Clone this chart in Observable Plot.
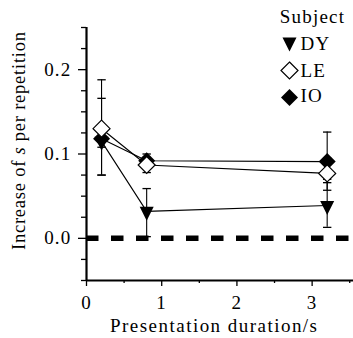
<!DOCTYPE html>
<html>
<head>
<meta charset="utf-8">
<script src="https://cdn.jsdelivr.net/npm/d3@7"></script>
<script src="https://cdn.jsdelivr.net/npm/@observablehq/plot@0.6"></script>
<style>
  body { margin: 0; background: #fff; }
  #chart svg, #chart svg text { font-family: "Liberation Serif", serif !important; }
  #chart svg text { letter-spacing: 1.2px; }
</style>
</head>
<body>
<div id="chart"></div>
<script>
// ---- data ----
const subjects = ["DY", "LE", "IO"];
const durations = [0.2, 0.8, 3.2];

const dyMean = [0.115, 0.032, 0.039];
const dyLow  = [0.075, 0.002, 0.013];
const dyHigh = [0.166, 0.059, 0.066];

const leMean = [0.130, 0.087, 0.077];
const leLow  = [0.075, 0.078, 0.057];
const leHigh = [0.188, 0.096, 0.095];

const ioMean = [0.118, 0.092, 0.091];
const ioLow  = [0.108, 0.084, 0.070];
const ioHigh = [0.128, 0.100, 0.126];

const xTicks = [0, 1, 2, 3];
const xMinorTicks = [0.5, 1.5, 2.5, 3.5];
const yTicks = [0.0, 0.1, 0.2];
const yMinorTicks = [-0.05, -0.025, 0.025, 0.05, 0.075, 0.125, 0.15, 0.175, 0.225, 0.25];
const zeroLine = [0];

const xTitle = "Presentation duration/s";
const yTitleParts = ["Increase of ", "s", " per repetition"];
const legendTitle = "Subject";

// ---- build table ----
const seriesDef = {
  DY: {mean: dyMean, low: dyLow, high: dyHigh},
  LE: {mean: leMean, low: leLow, high: leHigh},
  IO: {mean: ioMean, low: ioLow, high: ioHigh}
};
const rows = subjects.flatMap(s => durations.map((x, i) => ({
  subject: s, x, y: seriesDef[s].mean[i], lo: seriesDef[s].low[i], hi: seriesDef[s].high[i]
})));

// ---- custom symbols ----
const rad = size => Math.sqrt(size / Math.PI);
const triDown = {draw(ctx, size) { const r = rad(size);
  ctx.moveTo(-r, -0.65 * r); ctx.lineTo(r, -0.65 * r); ctx.lineTo(0, 1.35 * r); ctx.closePath(); }};
const diamond = {draw(ctx, size) { const r = rad(size);
  ctx.moveTo(0, -r); ctx.lineTo(r, 0); ctx.lineTo(0, r); ctx.lineTo(-r, 0); ctx.closePath(); }};
const cap = {draw(ctx, size) { const r = rad(size);
  ctx.moveTo(-r, 0); ctx.lineTo(r, 0); }};

const symbolStyle = {
  DY: {symbol: triDown, r: 7, fill: "black", stroke: "none"},
  LE: {symbol: diamond, r: 8.5, fill: "white", stroke: "black", strokeWidth: 1.2},
  IO: {symbol: diamond, r: 8.5, fill: "black", stroke: "none"}
};
const drawOrder = ["IO", "DY", "LE"];
const legendDy = {DY: 14.5, LE: 43, IO: 70};
const legendTextDy = {DY: 16.5, LE: 43, IO: 68.5};

const W = 353, H = 338;
const mL = 86, mT = 27, mB = 58, mR = 0;
const serif = '"Liberation Serif", serif';

const plot = Plot.plot({
  width: W, height: H,
  marginLeft: mL, marginTop: mT, marginBottom: mB, marginRight: mR,
  style: {fontSize: "19px", fontFamily: serif, background: "white", color: "black"},
  x: {domain: [0, 3.55]},
  y: {domain: [-0.05, 0.25]},
  marks: [
    Plot.ruleY(zeroLine, {stroke: "black", strokeWidth: 5.5, strokeDasharray: "12.5,12.5"}),
    Plot.ruleX(rows, {x: "x", y1: "lo", y2: "hi", stroke: "black", strokeWidth: 1.1}),
    Plot.dot(rows, {x: "x", y: "hi", symbol: cap, r: 4.2, stroke: "black", strokeWidth: 1.3, fill: "none"}),
    Plot.dot(rows, {x: "x", y: "lo", symbol: cap, r: 4.2, stroke: "black", strokeWidth: 1.3, fill: "none"}),
    Plot.line(rows, {x: "x", y: "y", z: "subject", stroke: "black", strokeWidth: 1.1}),
    ...drawOrder.map(s => Plot.dot(rows.filter(d => d.subject === s), {x: "x", y: "y", ...symbolStyle[s]})),
    // axes
    Plot.axisX(xTicks, {tickSize: 6, tickPadding: 9, label: null, strokeWidth: 1.3}),
    Plot.axisX(xMinorTicks, {tickSize: 3, text: null, label: null, strokeWidth: 1.3}),
    Plot.axisY(yTicks, {tickSize: 8, tickPadding: 7, label: null, tickFormat: d3.format(".1f"), strokeWidth: 1.3}),
    Plot.axisY(yMinorTicks, {tickSize: 5, text: null, label: null, strokeWidth: 1.3}),
    Plot.ruleX([0], {stroke: "black", strokeWidth: 2.2}),
    Plot.ruleY([-0.05], {stroke: "black", strokeWidth: 2.2}),
    // legend
    Plot.text([legendTitle], {frameAnchor: "top-right", dx: -41, dy: -11, text: d => d, textAnchor: "middle", lineAnchor: "middle"}),
    ...subjects.map(s => Plot.dot([s], {frameAnchor: "top-right", dx: -64, dy: legendDy[s], ...symbolStyle[s]})),
    ...subjects.map(s => Plot.text([s], {frameAnchor: "top-right", dx: -53, dy: legendTextDy[s], text: d => d, textAnchor: "start", lineAnchor: "middle"}))
  ]
});

document.getElementById("chart").appendChild(plot);

// axis titles (with italic s)
const svg = d3.select(plot);
svg.append("text")
  .attr("x", 110).attr("y", 332)
  .attr("text-anchor", "start")
  .attr("textLength", 207).attr("lengthAdjust", "spacing")
  .attr("font-size", 19).attr("fill", "black")
  .style("letter-spacing", "0px")
  .text(xTitle);

const yt = svg.append("text")
  .attr("transform", "translate(25,250) rotate(-90)")
  .attr("text-anchor", "start")
  .attr("font-size", 18.5).attr("fill", "black")
  .attr("textLength", 218).attr("lengthAdjust", "spacing")
  .style("letter-spacing", "0px");
yTitleParts.forEach((t, i) => {
  yt.append("tspan").attr("font-style", i === 1 ? "italic" : null).text(t);
});
</script>
</body>
</html>
